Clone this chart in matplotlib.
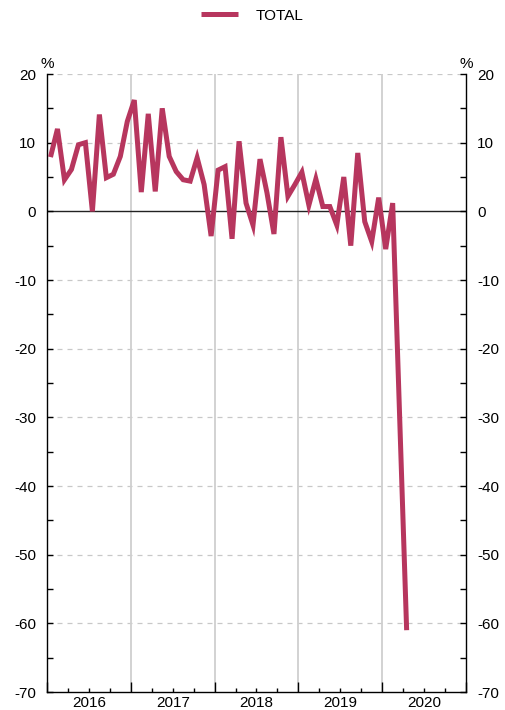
import numpy as np
import matplotlib
matplotlib.use("Agg")
import matplotlib.pyplot as plt
from matplotlib.ticker import MultipleLocator, FixedLocator

plt.rcParams['font.family'] = ['Liberation Sans', 'DejaVu Sans']
plt.rcParams['axes.unicode_minus'] = False

# monthly values, Jan 2016 .. Apr 2020
series_name = "TOTAL"
years = ["2016", "2017", "2018", "2019", "2020"]
values = [7.9, 12.0, 4.6, 6.1, 9.7, 10.0, 0.0, 14.1, 4.9, 5.4, 8.0, 13.1,
          16.2, 2.8, 14.2, 2.9, 15.0, 8.0, 5.8, 4.6, 4.4, 7.8, 3.9, -3.6,
          6.0, 6.5, -4.0, 10.2, 1.2, -2.0, 7.6, 2.7, -3.3, 10.8, 2.2, 3.9,
          5.7, 0.9, 4.7, 0.7, 0.7, -2.0, 5.0, -5.0, 8.5, -1.5, -4.4, 2.0,
          -5.5, 1.2, -30.0, -61.0]

months = np.arange(len(values))
color = "#b7365e"

fig = plt.figure(figsize=(5.05, 7.1), dpi=100)
ax = fig.add_axes([47 / 505, 18 / 710, 419 / 505, 618 / 710])

# grid
for y in range(-60, 30, 10):
    if y != 0:
        ax.axhline(y, color="#c8c8c8", lw=0.9, ls=(0, (4, 4)), zorder=0)
ax.axhline(0, color="#222222", lw=1.0, zorder=1)
for k in range(1, len(years)):
    ax.axvline(12 * k - 0.5, color="#cfcfcf", lw=1.3, zorder=0)

ax.plot(months, values, color=color, lw=3.6, solid_capstyle="butt",
        solid_joinstyle="miter", label=series_name, zorder=3)

ax.set_xlim(-0.5, 12 * len(years) - 0.5)
ax.set_ylim(-70, 20)

ax.spines["top"].set_visible(False)
for s in ["left", "right", "bottom"]:
    ax.spines[s].set_linewidth(1.0)
    ax.spines[s].set_color("black")

# y ticks on both sides
ax.yaxis.set_major_locator(MultipleLocator(10))
ax.yaxis.set_minor_locator(MultipleLocator(5))
ax.tick_params(axis="y", which="both", direction="in", left=True, right=True,
               labelleft=True, labelright=True, length=4, width=1,
               labelsize=11, pad=8)

# x ticks: year boundaries (major), quarters (minor), labels mid-year
ax.xaxis.set_major_locator(FixedLocator([12 * k - 0.5 for k in range(len(years) + 1)]))
ax.xaxis.set_minor_locator(FixedLocator([3 * q - 0.5 for q in range(4 * len(years) + 1) if q % 4]))
ax.tick_params(axis="x", which="major", direction="in", length=7, width=1, labelbottom=False)
ax.tick_params(axis="x", which="minor", direction="in", length=3, width=1)
for k, yr in enumerate(years):
    ax.text(12 * k + 5.5, -71.6, yr, ha="center", va="center", fontsize=11)

ax.text(-0.5, 21.5, "%", ha="center", va="center", fontsize=11)
ax.text(12 * len(years) - 0.5, 21.5, "%", ha="center", va="center", fontsize=11)

fig.legend(loc="upper center", bbox_to_anchor=(0.5, 1.007), frameon=False,
           handlelength=2.4, handletextpad=1.2, fontsize=11)

fig.savefig("out.png", dpi=100)
